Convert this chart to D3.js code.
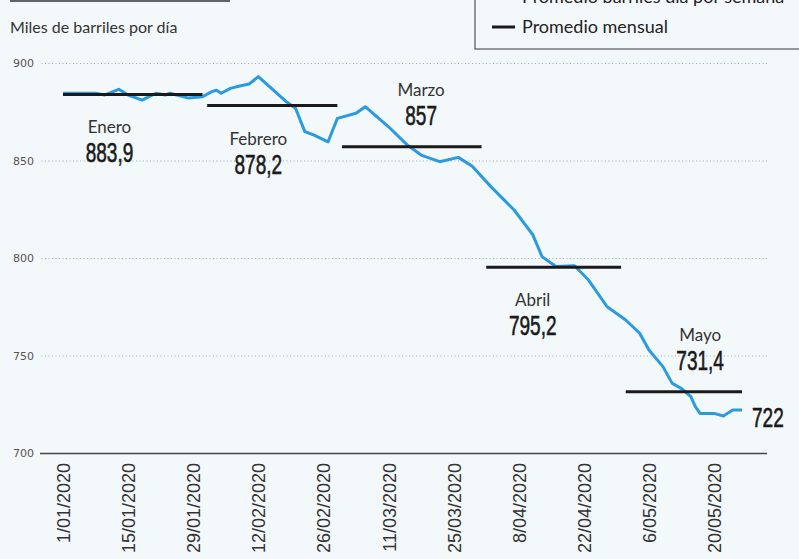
<!DOCTYPE html>
<html>
<head>
<meta charset="utf-8">
<script src="https://cdn.jsdelivr.net/npm/d3@7"></script>
<style>
  body { margin: 0; background: #f3f8fa; }
  svg { display: block; }
  .num { font-family: "Liberation Sans", Arial, sans-serif; }
  .lab { font-family: Lato, "Noto Sans", sans-serif; }
</style>
</head>
<body>
<div id="chart"></div>
<script>
// daily oil production, thousands of barrels/day
const dates = ["2020-01-01","2020-01-04","2020-01-08","2020-01-10","2020-01-13","2020-01-15","2020-01-18",
  "2020-01-21","2020-01-23","2020-01-24","2020-01-28","2020-01-31","2020-02-02","2020-02-03","2020-02-04",
  "2020-02-06","2020-02-08","2020-02-10","2020-02-12","2020-02-18","2020-02-20","2020-02-22","2020-02-24",
  "2020-02-27","2020-02-29","2020-03-04","2020-03-06","2020-03-11","2020-03-15","2020-03-18","2020-03-22",
  "2020-03-26","2020-03-29","2020-04-02","2020-04-07","2020-04-11","2020-04-13","2020-04-16","2020-04-20",
  "2020-04-23","2020-04-27","2020-05-01","2020-05-04","2020-05-06","2020-05-09","2020-05-11","2020-05-13",
  "2020-05-15","2020-05-16","2020-05-17","2020-05-20","2020-05-22","2020-05-24","2020-05-26"];
const values = [884.5,884.5,884.5,883.6,886.5,883.6,881,
  884.5,883.6,884.5,882,882.7,885.3,886,884.5,
  887,888.2,889.2,893,880.2,876.8,864.8,863,
  859.6,871.6,874.2,877.6,867.3,858,852.8,849.4,
  851.6,847,836.6,824.6,812,800.7,795.6,796,
  788.7,775,768.2,761.4,752.8,744.3,735.7,733,
  728.9,723.7,720.3,720.3,719,722,722];

const months = ["Enero","Febrero","Marzo","Abril","Mayo"];
const monthAvg = [883.9, 878.2, 857, 795.2, 731.4];
const monthStart = ["2020-01-01","2020-02-01","2020-03-01","2020-04-01","2020-05-01"];
const monthEnd = ["2020-01-31","2020-02-29","2020-03-31","2020-04-30","2020-05-26"];
// where each month's annotation sits (date of its centre, above or below the bar)
const labelDate = ["2020-01-11","2020-02-12","2020-03-18","2020-04-11","2020-05-17"];
const labelAbove = [false, false, true, false, true];

const tickDates = ["2020-01-01","2020-01-15","2020-01-29","2020-02-12","2020-02-26","2020-03-11",
  "2020-03-25","2020-04-08","2020-04-22","2020-05-06","2020-05-20"];
const yTicks = [700, 750, 800, 850, 900];
const lastValue = 722;

const W = 799, H = 559;
const parse = d3.timeParse("%Y-%m-%d");
const fmtDate = d3.timeFormat("%-d/%m/%Y");
const fmtNum = v => String(v).replace(".", ",");

const svg = d3.select("#chart").append("svg").attr("width", W).attr("height", H);

const x = d3.scaleTime().domain([parse("2020-01-01"), parse("2020-05-26")]).range([63, 742]);
const y = d3.scaleLinear().domain([700, 900]).range([453, 63]);

// y axis + gridlines
const yAxis = d3.axisLeft(y).tickValues(yTicks).tickSize(727).tickPadding(6).tickFormat(d3.format("d"));
const gy = svg.append("g").attr("transform", "translate(767,0)").call(yAxis);
gy.select(".domain").remove();
gy.selectAll(".tick line")
  .attr("stroke", d => d === 700 ? "#444" : "#9aa")
  .attr("stroke-width", d => d === 700 ? 1.3 : 1)
  .attr("stroke-dasharray", d => d === 700 ? null : "1,2.5");
gy.selectAll(".tick text")
  .attr("fill", "#555").style("font-family", "DejaVu Sans, sans-serif").style("font-size", "11px");

// x axis labels, rotated
const xAxis = d3.axisBottom(x).tickValues(tickDates.map(parse)).tickSize(0).tickFormat(fmtDate);
const gx = svg.append("g").attr("transform", "translate(0,453)").call(xAxis);
gx.select(".domain").remove();
gx.selectAll(".tick text")
  .attr("transform", "rotate(-90)")
  .attr("text-anchor", "end")
  .attr("x", -10).attr("y", 0).attr("dy", "0.36em")
  .attr("fill", "#333")
  .style("font-family", "Liberation Sans, Arial, sans-serif").style("font-size", "18px");

// unit label
svg.append("text").attr("class", "lab").attr("x", 10).attr("y", 33)
  .attr("fill", "#333").style("font-size", "16px")
  .text("Miles de barriles por día");

// remnant rule at the top left
svg.append("line").attr("x1", 10).attr("x2", 230).attr("y1", 1).attr("y2", 1)
  .attr("stroke", "#333").attr("stroke-width", 1.5);

// legend box (cut off at the top)
svg.append("rect").attr("x", 475).attr("y", -20).attr("width", 330).attr("height", 69)
  .attr("fill", "none").attr("stroke", "#555").attr("stroke-width", 1.2);
const legend = [{t: "Promedio barriles día por semana", c: "#2a9be0", y: -3}, {t: "Promedio mensual", c: "#1a1a1a", y: 27}];
legend.forEach(l => {
  svg.append("line").attr("x1", 492).attr("x2", 515).attr("y1", l.y).attr("y2", l.y)
    .attr("stroke", l.c).attr("stroke-width", 3);
  svg.append("text").attr("class", "lab").attr("x", 522).attr("y", l.y).attr("dy", "0.35em")
    .attr("fill", "#222").style("font-size", "18px")
    .text(l.t);
});

// weekly line
const series = dates.map((d, i) => ({date: parse(d), value: values[i]}));
svg.append("path").datum(series)
  .attr("fill", "none").attr("stroke", "#2a9be0").attr("stroke-width", 3)
  .attr("stroke-linejoin", "round")
  .attr("d", d3.line().x(d => x(d.date)).y(d => y(d.value)));

// condensed number (the print uses a narrow face)
function bigNum(px, py, txt, anchor) {
  svg.append("text").attr("class", "num")
    .attr("transform", `translate(${px},${py}) scale(0.68,1)`)
    .attr("text-anchor", anchor).attr("fill", "#1a1a1a")
    .attr("stroke", "#1a1a1a").attr("stroke-width", 0.6)
    .style("font-size", "28px")
    .text(txt);
}

// monthly averages
months.forEach((m, i) => {
  const yy = y(monthAvg[i]);
  svg.append("line")
    .attr("x1", x(parse(monthStart[i]))).attr("x2", x(parse(monthEnd[i])))
    .attr("y1", yy).attr("y2", yy)
    .attr("stroke", "#1a1a1a").attr("stroke-width", 3);
  const cx = x(parse(labelDate[i]));
  const nameY = labelAbove[i] ? yy - 51 : yy + 39;
  svg.append("text").attr("class", "lab").attr("x", cx).attr("y", nameY)
    .attr("text-anchor", "middle").attr("fill", "#333")
    .style("font-size", "17px")
    .text(m);
  bigNum(cx, nameY + 29, fmtNum(monthAvg[i]), "middle");
});

// last value
bigNum(x(parse(dates[dates.length - 1])) + 10, y(lastValue) + 17, lastValue, "start");
</script>
</body>
</html>
